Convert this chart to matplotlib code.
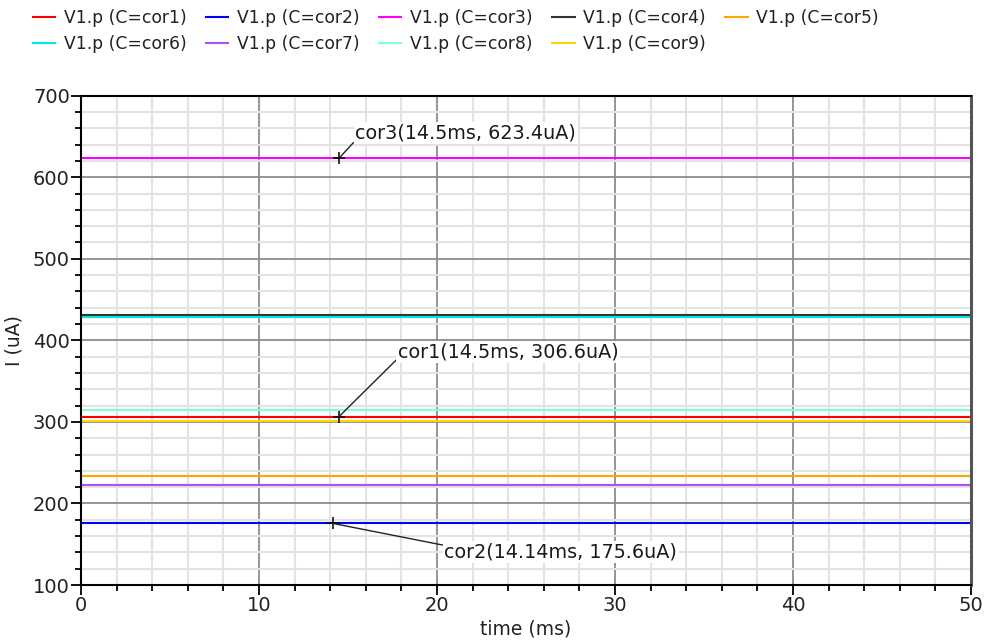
import matplotlib
matplotlib.use("Agg")
import matplotlib.pyplot as plt
from matplotlib.ticker import MultipleLocator
import numpy as np

# Data
corners = ["cor1", "cor2", "cor3", "cor4", "cor5", "cor6", "cor7", "cor8", "cor9"]
currents_uA = [306.6, 175.6, 623.4, 431.5, 233.5, 429.0, 222.5, 315.0, 301.5]
colors = ["#ff0000", "#0000ff", "#ff00ff", "#333333", "#ffa500",
          "#00e5e5", "#b050f0", "#7fffd4", "#ffd700"]
time_ms = [0.0, 50.0]

# markers / annotations
mark_corner = ["cor3", "cor1", "cor2"]
mark_x = [14.5, 14.5, 14.14]
mark_y = [623.4, 306.6, 175.6]
mark_text = ["cor3(14.5ms, 623.4uA)", "cor1(14.5ms, 306.6uA)", "cor2(14.14ms, 175.6uA)"]
text_x = [15.4, 17.8, 20.4]
text_y = [654.0, 386.0, 140.5]
text_rel = [(0.0, 0.1), (0.0, 0.15), (0.0, 0.85)]

fig = plt.figure(figsize=(9.85, 6.44), dpi=100)
ax = fig.add_axes([0.0822, 0.0916, 0.9036, 0.7598])

# grid
ax.set_xlim(0, 50)
ax.set_ylim(100, 700)
ax.xaxis.set_major_locator(MultipleLocator(10))
ax.xaxis.set_minor_locator(MultipleLocator(2))
ax.yaxis.set_major_locator(MultipleLocator(100))
ax.yaxis.set_minor_locator(MultipleLocator(20))
ax.grid(which="minor", color="#e3e3e3", lw=1.5, zorder=0)
ax.grid(which="major", color="#8c8c8c", lw=1.3, zorder=0.5)
ax.set_axisbelow(True)

for c, v, col in zip(corners, currents_uA, colors):
    ax.plot(time_ms, [v, v], color=col, lw=1.5, label=f"V1.p (C={c})", zorder=2)

for mx, my, t, tx, ty, rp in zip(mark_x, mark_y, mark_text, text_x, text_y, text_rel):
    ax.plot([mx], [my], marker="+", color="black", ms=9, mew=1.1, zorder=4)
    ax.annotate(t, xy=(mx, my), xytext=(tx, ty), fontsize=13.8, color="#1a1a1a",
                ha="left", va="center", zorder=5,
                bbox=dict(boxstyle="square,pad=0.08", fc="white", ec="none"),
                arrowprops=dict(arrowstyle="-", color="#222222", lw=1.0,
                                shrinkA=0, shrinkB=0, relpos=rp))

for s in ["left", "bottom", "top"]:
    ax.spines[s].set_color("black")
    ax.spines[s].set_linewidth(1.5)
ax.spines["right"].set_color("#555555")
ax.spines["right"].set_linewidth(2.2)

ax.tick_params(which="major", direction="out", length=7, width=1.3, color="black",
               labelsize=14, labelcolor="#222222", pad=1)
ax.tick_params(which="minor", direction="out", length=4, width=1.3, color="black")
ax.tick_params(top=False, right=False)

ax.set_xlabel("time (ms)", fontsize=13.5, color="#222222", labelpad=3)
ax.set_ylabel("I (uA)", fontsize=13.5, color="#222222", labelpad=4)
ax.yaxis.set_label_coords(-0.065, 0.5)

handles, labels = ax.get_legend_handles_labels()
order = [0, 5, 1, 6, 2, 7, 3, 8, 4]  # row-wise fill as in the reference
fig.legend([handles[i] for i in order], [labels[i] for i in order],
           ncol=5, loc="upper left", bbox_to_anchor=(0.018, 1.01),
           frameon=False, fontsize=12.3, handlelength=1.3, handletextpad=0.5,
           columnspacing=1.15, labelspacing=0.45, labelcolor="#222222")

fig.savefig("out.png", dpi=100)
